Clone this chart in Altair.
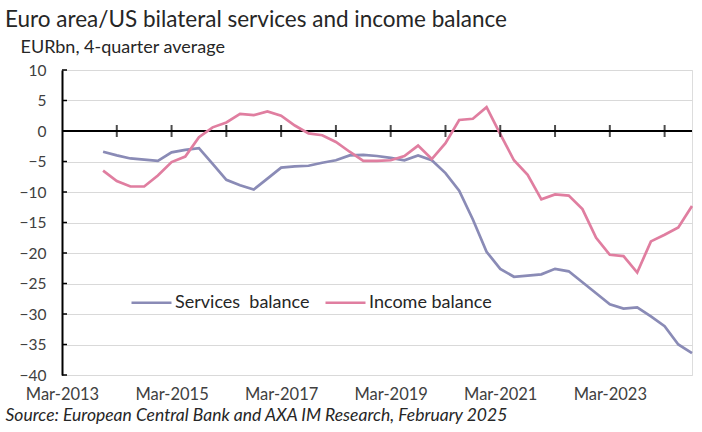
import altair as alt
import pandas as pd

# Quarter index 0 = Mar-2013; first plotted value is Dec-2013 (index 3)
first_q = 3
services = [-3.4, -4.0, -4.5, -4.7, -4.9, -3.5, -3.1, -2.8, -5.4, -8.0,
            -8.9, -9.6, -7.8, -6.0, -5.8, -5.7, -5.2, -4.8, -4.0, -3.9,
            -4.1, -4.4, -4.8, -4.0, -4.8, -6.9, -9.8, -14.5, -19.8, -22.6,
            -23.9, -23.7, -23.5, -22.6, -23.0, -24.8, -26.6, -28.4, -29.1, -28.9,
            -30.4, -32.0, -35.0, -36.4]
income = [-6.5, -8.2, -9.1, -9.1, -7.3, -5.1, -4.2, -1.0, 0.6, 1.4,
          2.8, 2.6, 3.2, 2.5, 0.9, -0.4, -0.7, -1.8, -3.4, -4.9,
          -4.9, -4.8, -4.1, -2.4, -4.6, -2.0, 1.8, 2.0, 3.9, -0.5,
          -4.8, -7.2, -11.2, -10.4, -10.6, -12.8, -17.5, -20.3, -20.5, -23.2,
          -18.1, -17.0, -15.8, -12.3]
series_names = ["Services\u00a0 balance", "Income balance"]
series_colors = ["#8a8bb6", "#e07ea0"]
label_quarters = [0, 8, 16, 24, 32, 40]          # Mar-2013 ... Mar-2023
year_ticks = [4, 8, 12, 16, 20, 24, 28, 32, 36, 40, 44]
y_ticks = [-40, -35, -30, -25, -20, -15, -10, -5, 0, 5, 10]

rows = []
for k, v in enumerate(services):
    rows.append({"q": first_q + k, "value": v, "series": series_names[0]})
for k, v in enumerate(income):
    rows.append({"q": first_q + k, "value": v, "series": series_names[1]})
df = pd.DataFrame(rows)

FONT = "Lato"
W, H = 630, 305

x_scale = alt.Scale(domain=[0, 46], nice=False, zero=False)
y_scale = alt.Scale(domain=[-40, 10], nice=False, zero=False)

x_axis = alt.Axis(
    values=label_quarters,
    labelExpr="'Mar-' + (2013 + datum.value / 4)",
    grid=False, domain=False, ticks=False, tickSize=0,
    labelPadding=11, labelFlush=False, labelOverlap=False, labelBound=False,
    labelFont=FONT, labelFontSize=16.5, labelColor="#404040",
    title="Source: European Central Bank and AXA IM Research, February 2025",
    titleFont=FONT, titleFontSize=17.5, titleFontStyle="italic", titleFontWeight="normal",
    titleColor="#262626", titleAnchor="start", titleAlign="left",
    titleBaseline="alphabetic", titleX=-57, titleY=45,
)
y_axis = alt.Axis(
    values=y_ticks,
    grid=True, gridColor="#d9d9d9", gridWidth=1,
    domain=True, domainColor="#000000", domainWidth=2,
    ticks=False, tickSize=0, labelPadding=16,
    labelFont=FONT, labelFontSize=15.5, labelColor="#404040",
    title="EURbn, 4-quarter average",
    titleFont=FONT, titleFontSize=18, titleFontWeight="normal", titleColor="#262626",
    titleAngle=0, titleAlign="left", titleBaseline="middle",
    titleX=-42, titleY=-23,
)

X = alt.X("q:Q", scale=x_scale, axis=x_axis)
Y = alt.Y("value:Q", scale=y_scale, axis=y_axis)

zero_df = pd.DataFrame({"q": year_ticks, "value": [0] * len(year_ticks)})
ytick_df = pd.DataFrame({"value": y_ticks})

zero_line = alt.Chart(pd.DataFrame({"value": [0]})).mark_rule(
    color="#000000", strokeWidth=2
).encode(y=Y)

year_tick_marks = alt.Chart(zero_df).mark_tick(
    orient="vertical", color="#000000", thickness=2, size=12
).encode(x=X, y=Y)

inner_ticks = alt.Chart(ytick_df).mark_rule(color="#000000", strokeWidth=1.5).encode(
    y=Y, x=alt.value(0), x2=alt.value(5)
)

lines = alt.Chart(df).mark_line(strokeWidth=2.7).encode(
    x=X, y=Y,
    color=alt.Color(
        "series:N",
        sort=series_names,
        scale=alt.Scale(domain=series_names, range=series_colors),
        legend=alt.Legend(
            orient="none", legendX=68, legendY=211, direction="horizontal",
            title=None, symbolType="stroke", symbolSize=1600, symbolStrokeWidth=2.7,
            labelFont=FONT, labelFontSize=18, labelColor="#262626",
            labelOffset=2, columnPadding=10, padding=0,
        ),
    ),
)

chart = alt.layer(zero_line, inner_ticks, lines, year_tick_marks).properties(
    width=W, height=H,
    title=alt.TitleParams(
        "Euro area/US bilateral services and income balance",
        anchor="start", frame="group", dx=-57, offset=7,
        font=FONT, fontSize=22.5, fontWeight="normal", color="#262626",
    ),
    autosize=alt.AutoSizeParams(type="none"),
    padding={"left": 62, "top": 70, "right": 10, "bottom": 57},
).configure_view(stroke=None).configure(background="white")

chart.save("out.html", embed_options={"renderer": "svg", "actions": False})
